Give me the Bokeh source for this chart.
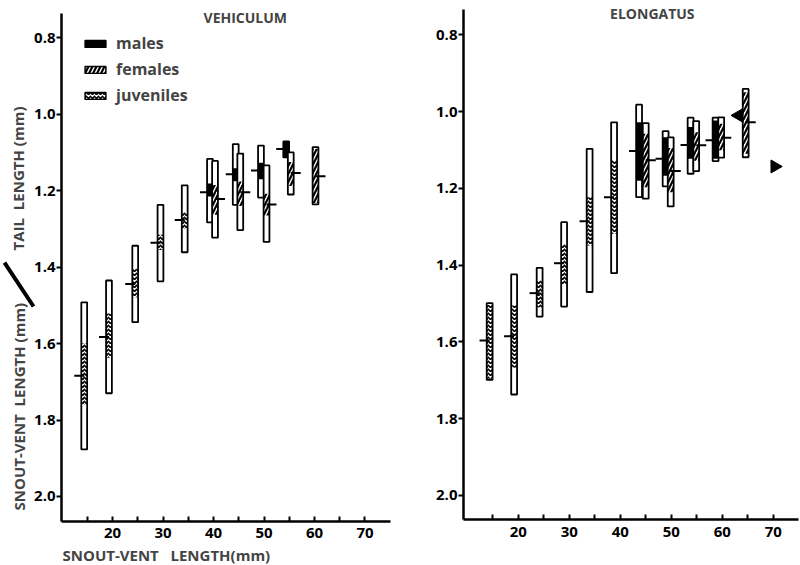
import math
import numpy as np
from bokeh.plotting import figure
from bokeh.models import (Range1d, FixedTicker, Label, Arrow, Legend, LegendItem,
                          ColumnDataSource)
from bokeh.layouts import row
from bokeh.embed import file_html
from bokeh.resources import INLINE

# ---------------- data ----------------
y_ticks = [0.8, 1.0, 1.2, 1.4, 1.6, 1.8, 2.0]
y_tick_labels = ["0.8", "1.0", "1.2", "1.4", "1.6", "1.8", "2.0"]
x_ticks = [20, 30, 40, 50, 60, 70]
x_minor_ticks = [15, 25, 35, 45, 55, 65]

# VEHICULUM
veh_juv_x = [14.4, 19.3, 24.5, 29.5, 34.3]
veh_juv_min = [1.492, 1.435, 1.344, 1.237, 1.186]
veh_juv_max = [1.877, 1.730, 1.544, 1.437, 1.361]
veh_juv_mean = [1.684, 1.583, 1.444, 1.336, 1.277]
veh_juv_se_lo = [1.600, 1.521, 1.404, 1.315, 1.256]
veh_juv_se_hi = [1.760, 1.637, 1.479, 1.355, 1.300]

veh_m_x = [39.3, 44.4, 49.4, 54.4]
veh_m_min = [1.117, 1.078, 1.082, 1.071]
veh_m_max = [1.283, 1.237, 1.218, 1.113]
veh_m_mean = [1.204, 1.157, 1.147, 1.091]
veh_m_se_lo = [1.181, 1.141, 1.127, 1.072]
veh_m_se_hi = [1.215, 1.175, 1.170, 1.112]

veh_f_x = [40.3, 45.3, 50.5, 55.3, 60.2]
veh_f_min = [1.122, 1.103, 1.134, 1.100, 1.086]
veh_f_max = [1.323, 1.303, 1.334, 1.210, 1.236]
veh_f_mean = [1.222, 1.204, 1.236, 1.154, 1.162]
veh_f_se_lo = [1.185, 1.176, 1.208, 1.125, 1.090]
veh_f_se_hi = [1.263, 1.240, 1.265, 1.188, 1.232]

# ELONGATUS
elo_juv_x = [14.4, 19.2, 24.2, 29.0, 34.0, 38.8]
elo_juv_min = [1.499, 1.424, 1.407, 1.288, 1.097, 1.028]
elo_juv_max = [1.699, 1.737, 1.534, 1.508, 1.470, 1.421]
elo_juv_mean = [1.596, 1.585, 1.473, 1.395, 1.286, 1.223]
elo_juv_se_lo = [1.503, 1.505, 1.440, 1.345, 1.223, 1.127]
elo_juv_se_hi = [1.696, 1.667, 1.510, 1.449, 1.349, 1.318]

elo_m_x = [43.7, 48.9, 53.8, 58.7]
elo_m_min = [0.982, 1.051, 1.016, 1.016]
elo_m_max = [1.223, 1.195, 1.162, 1.129]
elo_m_mean = [1.103, 1.123, 1.087, 1.075]
elo_m_se_lo = [1.028, 1.067, 1.040, 1.023]
elo_m_se_hi = [1.180, 1.167, 1.123, 1.123]

elo_f_x = [45.0, 49.9, 54.9, 59.8, 64.6]
elo_f_min = [1.030, 1.067, 1.025, 1.015, 0.941]
elo_f_max = [1.227, 1.247, 1.155, 1.120, 1.119]
elo_f_mean = [1.127, 1.155, 1.088, 1.068, 1.028]
elo_f_se_lo = [1.058, 1.095, 1.054, 1.032, 0.950]
elo_f_se_hi = [1.197, 1.210, 1.128, 1.101, 1.110]

# single specimens (triangles) in ELONGATUS
elo_single_x = [63.2, 70.3]
elo_single_y = [1.010, 1.143]
elo_single_dir = ["left", "right"]

# ---------------- styling ----------------
FONT = "Open Sans"
NB = "\u00a0"
W = 1.15          # bar width (x units)
TICK_EXT = 1.4    # how far the mean tick sticks out of a bar (x units)

STYLES = {
    "m": dict(fill_color="black", hatch_pattern=None),
    "f": dict(fill_color="white", hatch_pattern="right_diagonal_line", hatch_color="black",
              hatch_scale=8, hatch_weight=2.2),
    "j": dict(fill_color="white", hatch_pattern="horizontal_wave", hatch_color="black",
              hatch_scale=4, hatch_weight=1.7),
}


def make_fig(width, height, xr, yr, x_axis_at, y_axis_at, xb, yb):
    p = figure(width=width, height=height, x_range=Range1d(*xr), y_range=Range1d(*yr),
               output_backend="svg", toolbar_location=None,
               min_border_left=0, min_border_right=0, min_border_top=0, min_border_bottom=0)
    p.outline_line_color = None
    p.grid.visible = False
    p.background_fill_color = "white"
    p.border_fill_color = "white"

    p.yaxis.fixed_location = y_axis_at
    p.yaxis.bounds = yb
    p.xaxis.fixed_location = x_axis_at
    p.xaxis.bounds = xb

    p.yaxis.ticker = FixedTicker(ticks=y_ticks)
    p.yaxis.major_label_overrides = {t: l for t, l in zip(y_ticks, y_tick_labels)}
    p.yaxis.major_tick_out = 5
    p.yaxis.major_tick_in = 0
    p.yaxis.minor_tick_line_color = None
    p.yaxis.major_label_standoff = 1

    p.xaxis.ticker = FixedTicker(ticks=x_ticks, minor_ticks=x_minor_ticks)
    p.xaxis.major_tick_in = 5
    p.xaxis.major_tick_out = 0
    p.xaxis.minor_tick_in = 5
    p.xaxis.minor_tick_out = 0
    p.xaxis.major_label_standoff = 7

    for ax in (p.xaxis, p.yaxis):
        ax.axis_line_width = 2.5
        ax.axis_line_color = "black"
        ax.major_tick_line_width = 2
        ax.minor_tick_line_width = 2
        ax.major_tick_line_color = "black"
        ax.major_label_text_font = FONT
        ax.major_label_text_font_style = "bold"
        ax.major_label_text_font_size = "15px"
        ax.major_label_text_color = "black"
    p.xaxis.minor_tick_line_color = "black"
    return p


def draw_group(p, kind, x, vmin, vmax, mean, se_lo, se_hi):
    src = ColumnDataSource(dict(
        left=[xi - W / 2 for xi in x], right=[xi + W / 2 for xi in x],
        vmin=vmin, vmax=vmax, se_lo=se_lo, se_hi=se_hi))
    p.quad(left="left", right="right", top="vmin", bottom="vmax", source=src,
           fill_color="white", line_color=None)
    p.quad(left="left", right="right", top="se_lo", bottom="se_hi", source=src,
           line_color=None, **STYLES[kind])
    p.quad(left="left", right="right", top="vmin", bottom="vmax", source=src,
           fill_color=None, line_color="black", line_width=1.8)
    if kind == "f":
        x0 = list(x)
        x1 = [xi + W / 2 + TICK_EXT for xi in x]
    else:
        x0 = [xi - W / 2 - TICK_EXT for xi in x]
        x1 = list(x)
    p.segment(x0=x0, x1=x1, y0=mean, y1=mean, line_color="black", line_width=2)


def add_legend(p, loc):
    rs = []
    nan = np.array([np.nan])
    for kind in ("m", "f", "j"):
        r = p.quad(left=nan, right=nan, top=nan, bottom=nan, line_color="black",
                   line_width=1.5, **STYLES[kind])
        rs.append(r)
    leg = Legend(items=[LegendItem(label="males", renderers=[rs[0]]),
                        LegendItem(label="females", renderers=[rs[1]]),
                        LegendItem(label="juveniles", renderers=[rs[2]])],
                 location=loc, margin=0, padding=4, glyph_width=26, glyph_height=9,
                 label_standoff=8, spacing=4, label_height=22,
                 label_text_font=FONT, label_text_font_style="bold",
                 label_text_font_size="16px", border_line_color=None,
                 background_fill_alpha=0)
    p.add_layout(leg)


H = 565
# ---------------- left panel: VEHICULUM ----------------
p1 = make_fig(400, H, (-2.18, 77.03), (2.1806, 0.7024),
              x_axis_at=2.0654, y_axis_at=9.9, xb=(9.9, 75.05), yb=(0.7364, 2.0654))
draw_group(p1, "j", veh_juv_x, veh_juv_min, veh_juv_max, veh_juv_mean, veh_juv_se_lo, veh_juv_se_hi)
draw_group(p1, "m", veh_m_x, veh_m_min, veh_m_max, veh_m_mean, veh_m_se_lo, veh_m_se_hi)
draw_group(p1, "f", veh_f_x, veh_f_min, veh_f_max, veh_f_mean, veh_f_se_lo, veh_f_se_hi)
add_legend(p1, (82, 459))

p1.add_layout(Label(x=46.3, y=0.7456, text="VEHICULUM", text_align="center",
                    text_baseline="middle", text_font=FONT, text_font_size="14px",
                    text_font_style="bold"))
p1.add_layout(Label(x=1.19, y=1.168, text="TAIL" + NB * 2 + "LENGTH" + NB + "(mm)",
                    angle=math.pi / 2, text_align="center", text_baseline="middle",
                    text_font=FONT, text_font_size="15px", text_font_style="bold"))
p1.add_layout(Label(x=1.58, y=1.765, text="SNOUT-VENT" + NB * 2 + "LENGTH" + NB + "(mm)",
                    angle=math.pi / 2, text_align="center", text_baseline="middle",
                    text_font=FONT, text_font_size="15px", text_font_style="bold"))
p1.add_layout(Arrow(end=None, x_start=-1.39, y_start=1.388, x_end=4.36, y_end=1.503,
                    line_width=4, line_color="black"))
p1.add_layout(Label(x=10.1, y=2.1544, text="SNOUT-VENT" + NB * 3 + "LENGTH(mm)",
                    text_align="left", text_baseline="middle", text_font=FONT,
                    text_font_size="15px", text_font_style="bold"))

# ---------------- right panel: ELONGATUS ----------------
p2 = make_fig(400, H, (-3.08, 75.35), (2.1824, 0.7107),
              x_axis_at=2.0626, y_axis_at=9.27, xb=(9.27, 75.0), yb=(0.7341, 2.0626))
draw_group(p2, "j", elo_juv_x, elo_juv_min, elo_juv_max, elo_juv_mean, elo_juv_se_lo, elo_juv_se_hi)
draw_group(p2, "m", elo_m_x, elo_m_min, elo_m_max, elo_m_mean, elo_m_se_lo, elo_m_se_hi)
draw_group(p2, "f", elo_f_x, elo_f_min, elo_f_max, elo_f_mean, elo_f_se_lo, elo_f_se_hi)
p2.scatter(x=elo_single_x, y=elo_single_y, marker="triangle", size=13, color="black",
           angle=[math.pi / 2 if d == "left" else -math.pi / 2 for d in elo_single_dir])
p2.add_layout(Label(x=46.3, y=0.7445, text="ELONGATUS", text_align="center",
                    text_baseline="middle", text_font=FONT, text_font_size="14px",
                    text_font_style="bold"))

layout = row(p1, p2)
open("out.html", "w").write(file_html(layout, INLINE))
